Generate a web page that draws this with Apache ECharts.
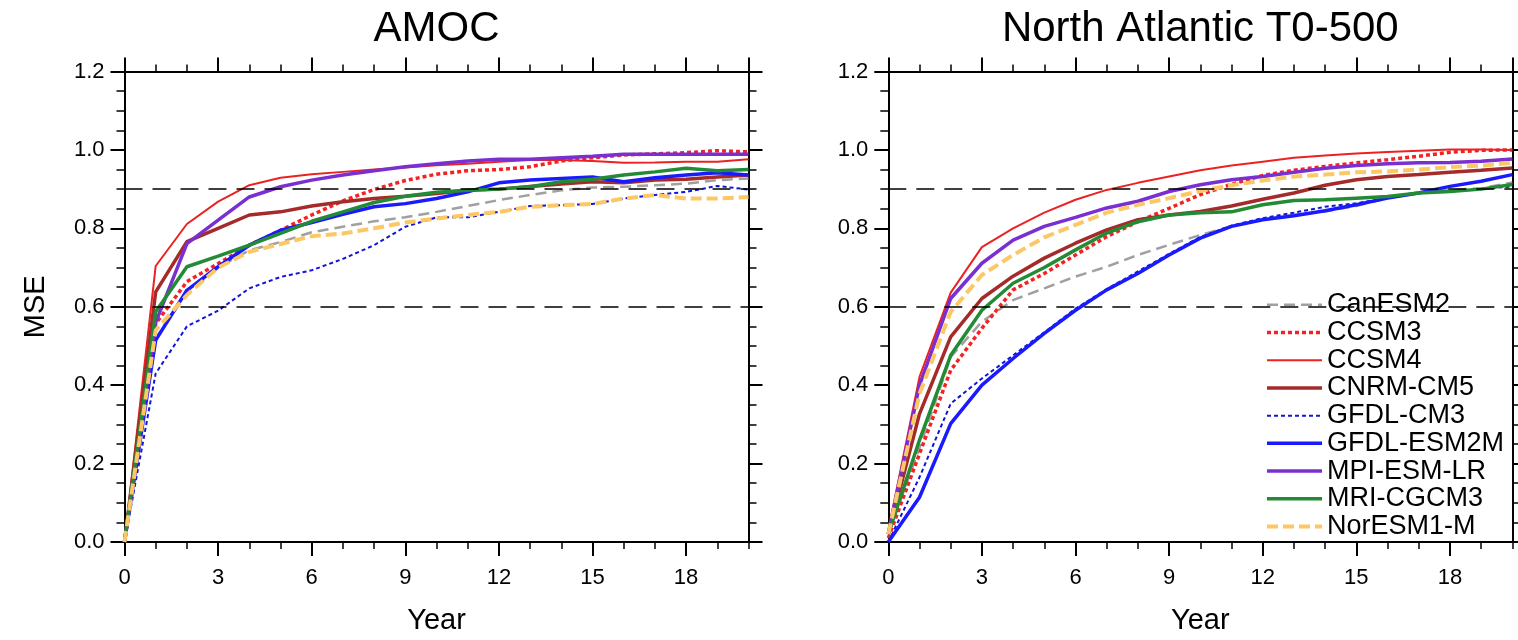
<!DOCTYPE html>
<html><head><meta charset="utf-8">
<script src="https://cdn.jsdelivr.net/npm/echarts@6/dist/echarts.min.js"></script>
<style>html,body{margin:0;padding:0;background:#fff}#c{width:1518px;height:640px}</style>
</head><body><div id="c"></div>
<script>
const YEARS = [0,1,2,3,4,5,6,7,8,9,10,11,12,13,14,15,16,17,18,19,20];
const MODELS = ['CanESM2','CCSM3','CCSM4','CNRM-CM5','GFDL-CM3','GFDL-ESM2M','MPI-ESM-LR','MRI-CGCM3','NorESM1-M'];
const PANEL_TITLES = ['AMOC','North Atlantic T0-500'];
const REF_LINES = [0.6, 0.9];
const X_TICK_STEP = 3;
const Y_TICK_STEP = 0.2;

// AMOC panel
const amoc_CanESM2  = [0,0.52,0.634,0.70,0.744,0.765,0.79,0.804,0.818,0.828,0.842,0.857,0.872,0.885,0.897,0.904,0.906,0.91,0.914,0.923,0.927];
const amoc_CCSM3    = [0,0.557,0.664,0.71,0.757,0.795,0.834,0.87,0.899,0.922,0.938,0.947,0.95,0.957,0.972,0.98,0.987,0.99,0.993,0.998,0.995];
const amoc_CCSM4    = [0,0.704,0.811,0.868,0.91,0.929,0.938,0.944,0.95,0.955,0.961,0.965,0.97,0.974,0.974,0.972,0.967,0.968,0.97,0.97,0.976];
const amoc_CNRM     = [0,0.638,0.766,0.80,0.834,0.842,0.857,0.868,0.876,0.882,0.889,0.897,0.90,0.907,0.913,0.919,0.916,0.923,0.925,0.931,0.936];
const amoc_GFDLCM3  = [0,0.43,0.55,0.59,0.647,0.676,0.693,0.722,0.757,0.804,0.828,0.828,0.842,0.857,0.859,0.862,0.876,0.885,0.893,0.908,0.899];
const amoc_GFDLESM  = [0,0.515,0.642,0.702,0.757,0.795,0.815,0.836,0.855,0.863,0.876,0.893,0.916,0.923,0.927,0.931,0.919,0.929,0.936,0.942,0.936];
const amoc_MPI      = [0,0.56,0.761,0.821,0.88,0.906,0.923,0.936,0.947,0.957,0.965,0.972,0.976,0.976,0.98,0.984,0.989,0.989,0.989,0.989,0.989];
const amoc_MRI      = [0,0.587,0.702,0.729,0.757,0.787,0.818,0.842,0.866,0.882,0.892,0.897,0.90,0.906,0.919,0.925,0.936,0.944,0.953,0.947,0.95];
const amoc_NorESM   = [0,0.54,0.63,0.70,0.74,0.76,0.78,0.787,0.80,0.815,0.825,0.834,0.842,0.855,0.859,0.862,0.876,0.885,0.876,0.876,0.88];

// North Atlantic T0-500 panel
const na_CanESM2  = [0.02,0.24,0.472,0.562,0.617,0.647,0.677,0.702,0.732,0.758,0.783,0.805,0.823,0.834,0.843,0.857,0.877,0.892,0.898,0.902,0.917];
const na_CCSM3    = [0.01,0.225,0.438,0.545,0.643,0.685,0.732,0.779,0.817,0.851,0.886,0.912,0.935,0.948,0.958,0.967,0.975,0.984,0.994,0.999,1.0];
const na_CCSM4    = [0.03,0.421,0.636,0.752,0.80,0.84,0.873,0.898,0.916,0.932,0.948,0.96,0.97,0.98,0.986,0.991,0.995,0.998,1.001,1.001,1.0];
const na_CNRM     = [0.02,0.327,0.523,0.621,0.678,0.724,0.762,0.796,0.822,0.834,0.843,0.857,0.874,0.89,0.91,0.924,0.932,0.937,0.943,0.948,0.954];
const na_GFDLCM3  = [0.0,0.165,0.353,0.417,0.476,0.535,0.595,0.645,0.69,0.735,0.778,0.807,0.826,0.84,0.855,0.864,0.877,0.89,0.895,0.9,0.907];
const na_GFDLESM  = [0.0,0.114,0.302,0.40,0.468,0.532,0.591,0.643,0.685,0.732,0.775,0.805,0.822,0.832,0.845,0.86,0.877,0.89,0.907,0.92,0.937];
const na_MPI      = [0.02,0.40,0.621,0.711,0.77,0.805,0.828,0.852,0.869,0.894,0.911,0.924,0.932,0.943,0.953,0.96,0.965,0.967,0.968,0.971,0.977];
const na_MRI      = [0.02,0.26,0.476,0.591,0.66,0.70,0.745,0.788,0.817,0.834,0.84,0.842,0.86,0.871,0.873,0.877,0.881,0.89,0.894,0.9,0.912];
const na_NorESM   = [0.02,0.378,0.587,0.681,0.732,0.777,0.809,0.84,0.86,0.877,0.895,0.91,0.922,0.932,0.937,0.943,0.945,0.95,0.956,0.96,0.967];

const PANEL_DATA = [
  [amoc_CanESM2, amoc_CCSM3, amoc_CCSM4, amoc_CNRM, amoc_GFDLCM3, amoc_GFDLESM, amoc_MPI, amoc_MRI, amoc_NorESM],
  [na_CanESM2, na_CCSM3, na_CCSM4, na_CNRM, na_GFDLCM3, na_GFDLESM, na_MPI, na_MRI, na_NorESM]
];

const STYLES = [
  {color:'#a0a0a0', width:2.5, type:[11,6]},
  {color:'#f52222', width:3.5, type:[4,3]},
  {color:'#ec2222', width:2,   type:'solid'},
  {color:'#a52a2a', width:3.5, type:'solid'},
  {color:'#1414d8', width:2,   type:[4,3]},
  {color:'#1a1aff', width:3.5, type:'solid'},
  {color:'#7a2fd0', width:3.5, type:'solid'},
  {color:'#238b35', width:3.5, type:'solid'},
  {color:'#fcc866', width:4,   type:[11,5]}
];

const FONT = 'Liberation Sans, Arial, Helvetica, sans-serif';
const gridsPos = [
  {left:124.5, right:769.5, top:71.5, bottom:98},
  {left:888.3, right:5.7, top:71.5, bottom:98}
];

const grid = gridsPos.map(g => Object.assign({containLabel:false}, g));
const xAxis = [], yAxis = [], series = [], title = [];

gridsPos.forEach((g, gi) => {
  const base = {gridIndex: gi, type:'value', min:0, max:20};
  xAxis.push(Object.assign({}, base, {
    position:'bottom', interval:X_TICK_STEP,
    axisLine:{show:true, onZero:false, lineStyle:{color:'#000', width:2}},
    axisTick:{show:true, length:14, lineStyle:{color:'#000', width:2}},
    axisLabel:{show:true, showMaxLabel:false, margin:25, fontSize:22, fontFamily:FONT, color:'#000'},
    splitLine:{show:false},
    name:'Year', nameLocation:'middle', nameGap:64,
    nameTextStyle:{fontSize:29, fontFamily:FONT, color:'#000'}
  }));
  xAxis.push(Object.assign({}, base, {
    position:'bottom', interval:1,
    axisLine:{show:false, onZero:false},
    axisTick:{show:true, length:7, lineStyle:{color:'#000', width:1.5}},
    axisLabel:{show:false}, splitLine:{show:false}
  }));
  xAxis.push(Object.assign({}, base, {
    position:'top', interval:X_TICK_STEP,
    axisLine:{show:true, onZero:false, lineStyle:{color:'#000', width:2}},
    axisTick:{show:true, length:14, lineStyle:{color:'#000', width:2}},
    axisLabel:{show:false}, splitLine:{show:false}
  }));
  xAxis.push(Object.assign({}, base, {
    position:'top', interval:1,
    axisLine:{show:false, onZero:false},
    axisTick:{show:true, length:7, lineStyle:{color:'#000', width:1.5}},
    axisLabel:{show:false}, splitLine:{show:false}
  }));
  const ybase = {gridIndex: gi, type:'value', min:0, max:1.2, interval:Y_TICK_STEP,
    axisTick:{show:true, length:14, lineStyle:{color:'#000', width:2}},
    minorTick:{show:true, splitNumber:4, length:8, lineStyle:{color:'#000', width:1.5}},
    splitLine:{show:false}};
  yAxis.push(Object.assign({}, ybase, {
    position:'left',
    axisLine:{show:true, onZero:false, lineStyle:{color:'#000', width:2}},
    axisLabel:{show:true, margin:20, fontSize:22, fontFamily:FONT, color:'#000', formatter: v => v.toFixed(1)},
    name: gi === 0 ? 'MSE' : '', nameLocation:'middle', nameGap:74,
    nameTextStyle:{fontSize:29, fontFamily:FONT, color:'#000'}
  }));
  yAxis.push(Object.assign({}, ybase, {
    position:'right',
    axisLine:{show:true, onZero:false, lineStyle:{color:'#000', width:2}},
    axisLabel:{show:false}
  }));

  title.push({
    text: PANEL_TITLES[gi], left: g.left + 312, top: 8, textAlign:'center', padding:0,
    textStyle:{fontSize:42, fontWeight:'normal', fontFamily:FONT, color:'#000'}
  });

  series.push({
    type:'line', xAxisIndex: gi*4, yAxisIndex: gi*2, data: [], silent:true, z:1,
    markLine:{silent:true, symbol:'none', label:{show:false}, animation:false,
      lineStyle:{color:'#000', width:1.5, type:[18,10]},
      data: REF_LINES.map(v => ({yAxis: v}))}
  });

  MODELS.forEach((m, mi) => {
    const st = STYLES[mi];
    series.push({
      name: m, type:'line', xAxisIndex: gi*4, yAxisIndex: gi*2,
      data: YEARS.map((yr, i) => [yr, PANEL_DATA[gi][mi][i]]),
      showSymbol:false, symbol:'none', smooth:false, animation:false, z: 2,
      lineStyle:{color: st.color, width: st.width, type: st.type},
      itemStyle:{color: st.color}
    });
  });
});

const option = {
  animation:false,
  title: title,
  grid: grid,
  xAxis: xAxis,
  yAxis: yAxis,
  legend: {
    data: MODELS,
    orient:'vertical', left:1265, top:291, padding:0,
    itemWidth:55, itemHeight:14, itemGap:0,
    icon:'inherit',
    selectedMode:false,
    itemStyle:{opacity:0},
    lineStyle:{width:'inherit'},
    textStyle:{fontSize:27, lineHeight:27.7, fontFamily:FONT, color:'#000'}
  },
  series: series
};
const chart = echarts.init(document.getElementById('c'), null, {renderer:'canvas'});
chart.setOption(option);
</script></body></html>
